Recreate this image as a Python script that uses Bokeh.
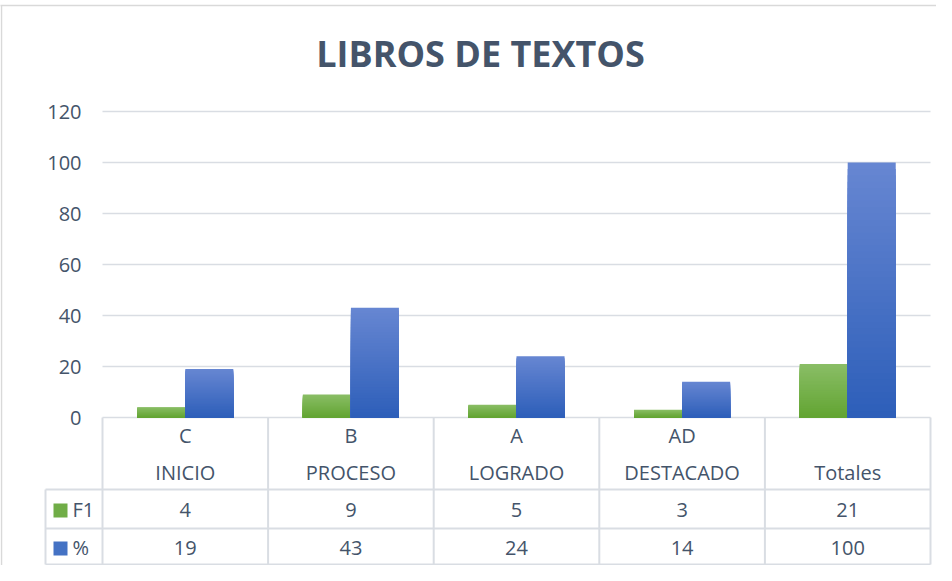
import numpy as np
from bokeh.plotting import figure
from bokeh.models import Range1d, ColumnDataSource
from bokeh.core.properties import value
from bokeh.embed import file_html
from bokeh.resources import INLINE

# ---------------- data ----------------
title_text = "LIBROS DE TEXTOS"
cat_letters = ["C", "B", "A", "AD", ""]
cat_names = ["INICIO", "PROCESO", "LOGRADO", "DESTACADO", "Totales"]
series_names = ["F1", "%"]
f1_values = [4, 9, 5, 3, 21]
pct_values = [19, 43, 24, 14, 100]
y_ticks = [0, 20, 40, 60, 80, 100, 120]

# ---------------- layout (page pixels) ----------------
W, H = 936, 565
ORIGIN = 8                 # page margin
X0_PX, CAT_W = 110, 165.6  # left of plot area, width of one category
Y0_PX, PX_PER_UNIT = 425, 2.55
LEG_LEFT = 53
ROW_LINES = [497, 536, 572]
HEAD1_Y, HEAD2_Y = 443, 480
ROW_Y = [517, 555]
BAR_W = 0.29
FONT = value("Open Sans")
TXT = "#44546a"
LINE = "#d9dde3"

n = len(cat_names)
x_start = (ORIGIN - X0_PX) / CAT_W
x_end = (ORIGIN + W - X0_PX) / CAT_W
y_start = (Y0_PX - (ORIGIN + H)) / PX_PER_UNIT
y_end = (Y0_PX - ORIGIN) / PX_PER_UNIT

p = figure(width=W, height=H, x_range=Range1d(x_start, x_end), y_range=Range1d(y_start, y_end),
           x_axis_type=None, y_axis_type=None, toolbar_location=None, output_backend="svg",
           title=None, min_border=0)
p.outline_line_color = None
p.background_fill_color = "white"
p.border_fill_color = "white"
p.extra_x_ranges = {"px": Range1d(ORIGIN, ORIGIN + W)}
p.extra_y_ranges = {"py": Range1d(ORIGIN + H, ORIGIN)}

# chart border
p.segment(x0=[4, ORIGIN + 1], y0=[13, 13], x1=[ORIGIN + W, ORIGIN + 1], y1=[13, ORIGIN + H],
          line_color="#d9d9d9", line_width=1.5, x_range_name="px", y_range_name="py")

# title
p.text(x=[488], y=[61], text=[title_text], text_font=FONT, text_font_style="bold",
       text_font_size="36px", text_color=TXT, text_align="center", text_baseline="middle",
       x_range_name="px", y_range_name="py")

# gridlines
p.segment(x0=[0] * len(y_ticks), x1=[n] * len(y_ticks), y0=y_ticks, y1=y_ticks,
          line_color=LINE, line_width=1.5)

# y tick labels
p.text(x=[89] * len(y_ticks), y=[Y0_PX - t * PX_PER_UNIT for t in y_ticks],
       text=[str(t) for t in y_ticks], text_font=FONT, text_font_size="20px", text_color=TXT,
       text_align="right", text_baseline="middle", x_range_name="px", y_range_name="py")


def hexc(c):
    return "#%02x%02x%02x" % tuple(int(round(v)) for v in c)


def gradient_bars(centers, values, c_bot, c_top, nseg=40):
    # overlapping bars from 0, drawn tallest (lightest) first -> smooth vertical gradient
    L, R, B, T, C = [], [], [], [], []
    for k in range(nseg - 1, -1, -1):
        f = (k + 0.5) / nseg
        col = hexc([c_bot[i] + (c_top[i] - c_bot[i]) * f for i in range(3)])
        for xc, v in zip(centers, values):
            L.append(xc - BAR_W / 2)
            R.append(xc + BAR_W / 2)
            B.append(0)
            T.append(v * (k + 1) / nseg)
            C.append(col)
    src = ColumnDataSource(dict(left=L, right=R, bottom=B, top=T, color=C))
    p.quad(left="left", right="right", bottom="bottom", top="top", fill_color="color",
           line_color=None, source=src)


xc = np.arange(n) + 0.5
gradient_bars(xc - BAR_W / 2, f1_values, (98, 164, 50), (138, 190, 102))
gradient_bars(xc + BAR_W / 2, pct_values, (45, 94, 185), (103, 135, 210))

# table lines
p.segment(x0=[LEG_LEFT] * len(ROW_LINES), x1=[X0_PX + n * CAT_W] * len(ROW_LINES),
          y0=ROW_LINES, y1=ROW_LINES, line_color=LINE, line_width=2,
          x_range_name="px", y_range_name="py")
p.segment(x0=list(range(n + 1)), x1=list(range(n + 1)), y0=[Y0_PX] * (n + 1),
          y1=[ROW_LINES[-1]] * (n + 1), line_color=LINE, line_width=2, y_range_name="py")
p.segment(x0=[LEG_LEFT], x1=[LEG_LEFT], y0=[ROW_LINES[0]], y1=[ROW_LINES[-1]],
          line_color=LINE, line_width=2, x_range_name="px", y_range_name="py")

# table header
p.text(x=list(xc), y=[HEAD1_Y] * n, text=cat_letters, text_font=FONT, text_font_size="20px",
       text_color=TXT, text_align="center", text_baseline="middle", y_range_name="py")
p.text(x=list(xc), y=[HEAD2_Y] * n, text=cat_names, text_font=FONT, text_font_size="20px",
       text_color=TXT, text_align="center", text_baseline="middle", y_range_name="py")

# table values
for ry, vals in zip(ROW_Y, [f1_values, pct_values]):
    p.text(x=list(xc), y=[ry] * n, text=[str(v) for v in vals], text_font=FONT,
           text_font_size="20px", text_color=TXT, text_align="center", text_baseline="middle",
           y_range_name="py")

# legend keys
p.rect(x=[68, 68], y=[ROW_Y[0] + 1, ROW_Y[1] + 1], width=14, height=14,
       fill_color=["#70ad47", "#4472c4"], line_color=None, x_range_name="px", y_range_name="py")
p.text(x=[80, 80], y=ROW_Y, text=series_names, text_font=FONT, text_font_size="20px",
       text_color=TXT, text_align="left", text_baseline="middle",
       x_range_name="px", y_range_name="py")

open("out.html", "w").write(file_html(p, INLINE))
